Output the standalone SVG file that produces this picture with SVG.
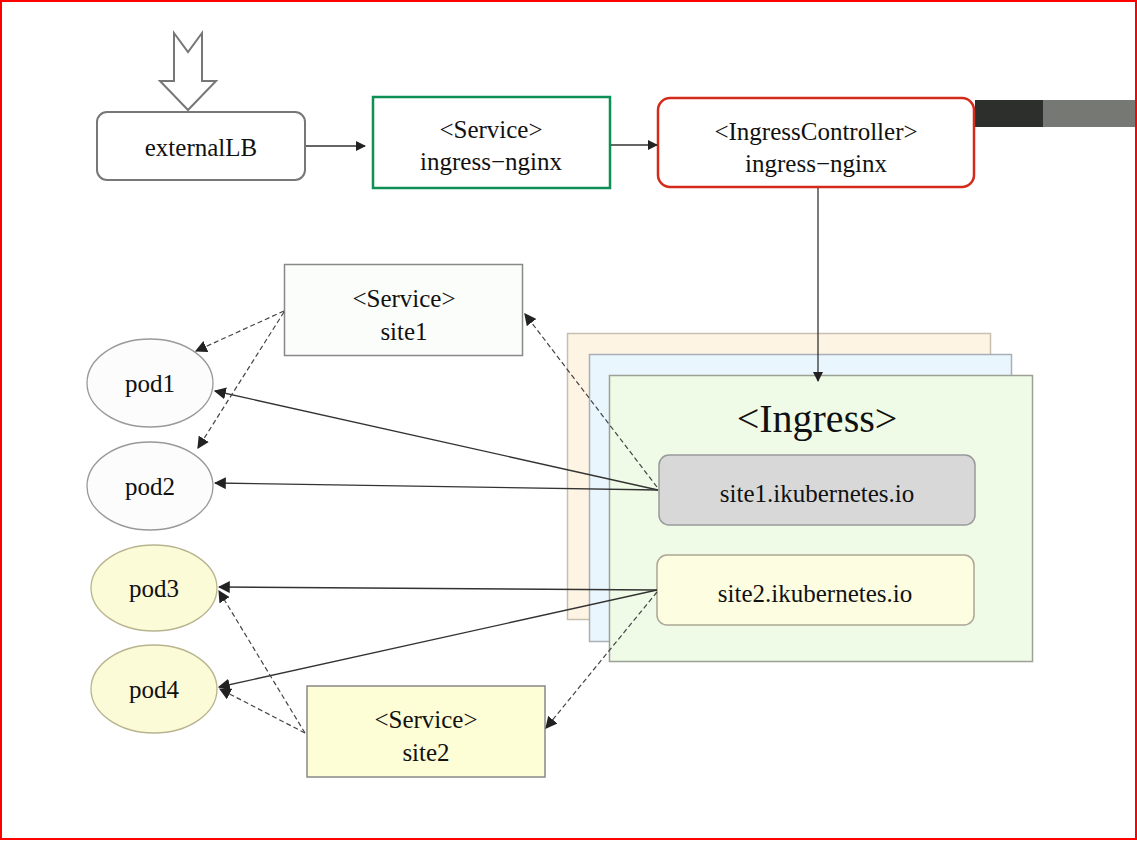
<svg xmlns="http://www.w3.org/2000/svg" width="1137" height="841" viewBox="0 0 1137 841">
<defs>
<style>
text{font-family:"Liberation Serif","Times New Roman",serif;fill:#111;text-anchor:middle;font-size:25px}
.ln{stroke:#333;stroke-width:1.3;fill:none}
.ds{stroke:#444;stroke-width:1.2;fill:none;stroke-dasharray:5 3}
</style>
<marker id="ah" viewBox="0 0 10 10" refX="9" refY="5" markerWidth="10" markerHeight="10" markerUnits="userSpaceOnUse" orient="auto">
<path d="M0,0 L10,5 L0,10 z" fill="#222"/>
</marker>
<marker id="ahs" viewBox="0 0 10 10" refX="9" refY="5" markerWidth="12" markerHeight="12" markerUnits="userSpaceOnUse" orient="auto">
<path d="M0,0 L10,5 L0,10 z" fill="#222"/>
</marker>
</defs>
<rect x="0" y="0" width="1137" height="841" fill="#fff"/>
<rect x="1" y="1" width="1135" height="838" fill="none" stroke="#f00" stroke-width="2"/>
<rect x="975" y="100" width="68" height="27" fill="#2d2f2c"/>
<rect x="1043" y="100" width="92" height="27" fill="#767874"/>

<g id="entry-arrow">
<path d="M174,33 L188,52 L202,33 L202,81 L216,81 L188,110 L160,81 L174,81 Z" fill="#fff" stroke="#777" stroke-width="2"/>
</g>

<g id="externalLB">
<rect x="97" y="112" width="208" height="68" rx="10" fill="#fff" stroke="#777" stroke-width="2"/>
<text x="201" y="156">externalLB</text>
</g>
<g id="svc-ingress-nginx">
<rect x="373" y="97" width="237" height="91" fill="#fff" stroke="#0e8f55" stroke-width="2.5"/>
<text x="491" y="138">&lt;Service&gt;</text>
<text x="491" y="170">ingress−nginx</text>
</g>
<g id="ingress-controller">
<rect x="658" y="98" width="316" height="89" rx="12" fill="#fff" stroke="#d42a1a" stroke-width="2.5"/>
<text x="816" y="140">&lt;IngressController&gt;</text>
<text x="816" y="172">ingress−nginx</text>
</g>

<g id="ingress">
<rect x="567.5" y="333.5" width="423" height="286" fill="#fdf4e4" stroke="#c8bfae" stroke-width="1.5"/>
<rect x="589.5" y="354.5" width="422" height="287" fill="#eaf6fd" stroke="#a9b0b5" stroke-width="1.5"/>
<rect x="609.5" y="375.5" width="423" height="286" fill="#effbe7" stroke="#9aa195" stroke-width="1.5"/>
<text x="817" y="432" style="font-size:40px">&lt;Ingress&gt;</text>
</g>
<g id="site1-rule">
<rect x="659" y="455" width="316" height="70" rx="10" fill="#d8d8d8" stroke="#999" stroke-width="1.5"/>
<text x="817" y="502">site1.ikubernetes.io</text>
</g>
<g id="site2-rule">
<rect x="657" y="555" width="317" height="70" rx="10" fill="#fdfde2" stroke="#aaa794" stroke-width="1.5"/>
<text x="815" y="602">site2.ikubernetes.io</text>
</g>

<g id="svc-site1">
<rect x="284.5" y="264.5" width="238" height="91" fill="#fbfdfb" stroke="#888" stroke-width="1.5"/>
<text x="404" y="307">&lt;Service&gt;</text>
<text x="404" y="340">site1</text>
</g>
<g id="svc-site2">
<rect x="307" y="686" width="238" height="91" fill="#fdfdd6" stroke="#888" stroke-width="1.5"/>
<text x="426" y="728">&lt;Service&gt;</text>
<text x="426" y="761">site2</text>
</g>

<g id="pod1"><ellipse cx="150" cy="383" rx="63" ry="44" fill="#fbfcfb" stroke="#999" stroke-width="1.3"/><text x="150" y="392">pod1</text></g>
<g id="pod2"><ellipse cx="150" cy="486" rx="63" ry="44" fill="#fbfcfb" stroke="#999" stroke-width="1.3"/><text x="150" y="495">pod2</text></g>
<g id="pod3"><ellipse cx="154" cy="588" rx="63" ry="43" fill="#fcfbd7" stroke="#b8b48f" stroke-width="1.3"/><text x="154" y="597">pod3</text></g>
<g id="pod4"><ellipse cx="154" cy="689" rx="63" ry="44" fill="#fcfbd7" stroke="#b8b48f" stroke-width="1.3"/><text x="154" y="698">pod4</text></g>

<g id="connectors">
<line class="ln" x1="306" y1="146" x2="365" y2="146" marker-end="url(#ah)"/>
<line class="ln" x1="611" y1="145" x2="657" y2="145" marker-end="url(#ah)"/>
<line class="ln" x1="818" y1="188" x2="818" y2="381" marker-end="url(#ah)"/>
<line class="ln" x1="658" y1="490" x2="215" y2="391" marker-end="url(#ahs)"/>
<line class="ln" x1="658" y1="490" x2="215" y2="483" marker-end="url(#ahs)"/>
<line class="ds" x1="657" y1="487" x2="525" y2="314" marker-end="url(#ahs)"/>
<line class="ds" x1="284" y1="311" x2="196" y2="351" marker-end="url(#ahs)"/>
<line class="ds" x1="284" y1="312" x2="198" y2="448" marker-end="url(#ahs)"/>
<line class="ln" x1="657" y1="590" x2="219" y2="587" marker-end="url(#ahs)"/>
<line class="ln" x1="657" y1="590" x2="219" y2="687" marker-end="url(#ahs)"/>
<line class="ds" x1="657" y1="592" x2="546" y2="728" marker-end="url(#ahs)"/>
<line class="ds" x1="305" y1="733" x2="219" y2="591" marker-end="url(#ahs)"/>
<line class="ds" x1="305" y1="733" x2="220" y2="689" marker-end="url(#ahs)"/>
</g>
</svg>
